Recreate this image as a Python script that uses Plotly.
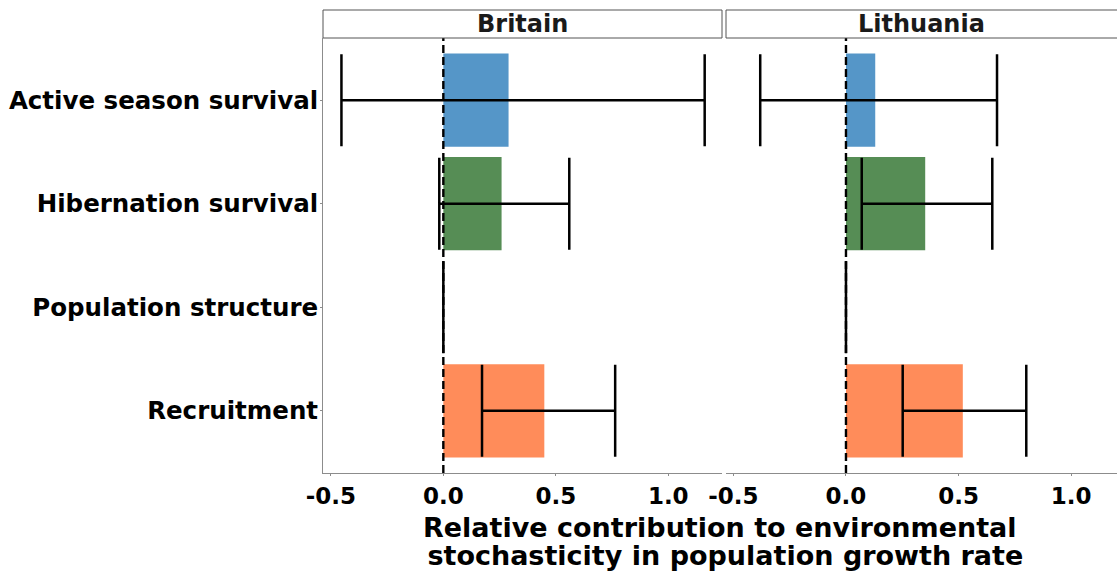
import plotly.graph_objects as go

categories = ["Active season survival", "Hibernation survival", "Population structure", "Recruitment"]
colors = ["#5596C8", "#568D55", "#D0D0D0", "#FF8C5A"]

britain_mean = [0.29, 0.259, 0.0, 0.449]
britain_lo = [-0.453, -0.018, 0.0, 0.172]
britain_hi = [1.162, 0.56, 0.0, 0.764]

lithuania_mean = [0.13, 0.352, 0.0, 0.519]
lithuania_lo = [-0.381, 0.07, 0.0, 0.252]
lithuania_hi = [0.671, 0.65, 0.0, 0.801]

panels = ["Britain", "Lithuania"]
x_ticks = [-0.5, 0.0, 0.5, 1.0]
x_ticktext = ["-0.5", "0.0", "0.5", "1.0"]

W, H = 1117, 571
L, R, T, B = 323, 0, 38, 98
plot_w = W - L - R
plot_h = H - T - B

fig = go.Figure()

data = [(britain_mean, britain_lo, britain_hi), (lithuania_mean, lithuania_lo, lithuania_hi)]
for i, (mean, lo, hi) in enumerate(data):
    xa = "x" if i == 0 else "x2"
    fig.add_trace(go.Bar(
        x=mean, y=categories, orientation="h",
        marker=dict(color=colors, line=dict(width=0)),
        width=0.9,
        error_x=dict(type="data", symmetric=False,
                     array=[h - m for h, m in zip(hi, mean)],
                     arrayminus=[m - l for m, l in zip(mean, lo)],
                     color="black", thickness=2.5, width=46),
        xaxis=xa, yaxis="y", showlegend=False,
    ))

# panel domains (pixel-based)
d1 = [0, (722 - L) / plot_w]
d2 = [(726 - L) / plot_w, 1.0]

axis_common = dict(
    tickvals=x_ticks, ticktext=x_ticktext,
    tickfont=dict(family="DejaVu Sans", size=23, color="black", weight="bold"),
    showgrid=False, zeroline=False, showline=True, linecolor="#8c8c8c", linewidth=1,
    ticks="outside", ticklen=2, tickcolor="#8c8c8c", anchor="y",
)
fig.update_layout(
    xaxis=dict(domain=d1, range=[-0.535, 1.239], **axis_common),
    xaxis2=dict(domain=d2, range=[-0.533, 1.204], **axis_common),
    yaxis=dict(categoryorder="array", categoryarray=categories,
               range=[3.6, -0.6], showgrid=False, zeroline=False,
               showline=True, linecolor="#8c8c8c", linewidth=1,
               ticks="outside", ticklen=2, tickcolor="#8c8c8c",
               ticklabelstandoff=-3,
               tickfont=dict(family="DejaVu Sans", size=24.5, color="black", weight="bold")),
    width=W, height=H,
    margin=dict(l=L, r=R, t=T, b=B, pad=0),
    plot_bgcolor="white", paper_bgcolor="white",
    bargap=0.1,
)

# dashed zero lines
for xr in ["x", "x2"]:
    fig.add_shape(type="line", xref=xr, yref="paper", x0=0, x1=0, y0=0, y1=1,
                  line=dict(color="black", width=2.4, dash="8px,4px"), layer="above")

# facet strips
strip_top = 1 + 28 / plot_h
strip_doms = [d1, [d2[0], 1.003]]
for name, d in zip(panels, strip_doms):
    fig.add_shape(type="rect", xref="paper", yref="paper", x0=d[0], x1=d[1], y0=1.0, y1=strip_top,
                  line=dict(color="#555555", width=1), fillcolor="white")
    cx = (d[0] + min(d[1], 1.0)) / 2
    fig.add_annotation(x=cx, y=1 + 14 / plot_h, xref="paper", yref="paper",
                       text=name, showarrow=False, xanchor="center", yanchor="middle",
                       font=dict(family="DejaVu Sans", size=24, color="#1a1a1a", weight="bold"))

# x-axis title (two lines)
title_lines = ["Relative contribution to environmental", " stochasticity in population growth rate"]
for j, line in enumerate(title_lines):
    ypx = 527 + j * 28
    fig.add_annotation(x=(720 - L) / plot_w, y=-(ypx - (T + plot_h)) / plot_h,
                       xref="paper", yref="paper", text=line, showarrow=False,
                       xanchor="center", yanchor="middle",
                       font=dict(family="DejaVu Sans", size=27, color="black", weight="bold"))

fig.write_html("out.html")
